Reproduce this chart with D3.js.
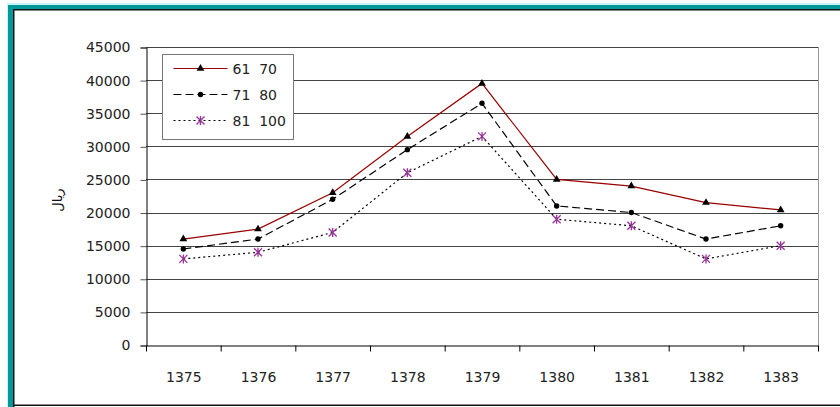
<!DOCTYPE html>
<html>
<head>
<meta charset="utf-8">
<script src="https://cdn.jsdelivr.net/npm/d3@7"></script>
<style>
    body { margin: 0; background: #fff; }
    svg { display: block; font-family: "DejaVu Sans", Verdana, sans-serif; }
</style>
</head>
<body>
<svg class="chart" width="840" height="407"></svg>
<script>
const years = ['1375', '1376', '1377', '1378', '1379', '1380', '1381', '1382', '1383'];
const seriesNames = ['61  70', '71  80', '81  100'];
const s61 = [16000, 17500, 23000, 31500, 39500, 25000, 24000, 21500, 20400];
const s71 = [14500, 16000, 22000, 29500, 36500, 21000, 20000, 16000, 18000];
const s81 = [13000, 14000, 17000, 26000, 31500, 19000, 18000, 13000, 15000];
const yTicks = [0, 5000, 10000, 15000, 20000, 25000, 30000, 35000, 40000, 45000];
const yLabel = 'ریال';

const m = {l: 146, r: 818, t: 47, b: 345};
const svg = d3.select('.chart');
const font = '"DejaVu Sans", Verdana, sans-serif';

// frame
svg.append('rect').attr('x', 7).attr('y', 3).attr('width', 833).attr('height', 2).attr('fill', '#c8f4f4');
svg.append('rect').attr('x', 7).attr('y', 3).attr('width', 2).attr('height', 404).attr('fill', '#c8f4f4');
svg.append('rect').attr('x', 8).attr('y', 5).attr('width', 832).attr('height', 4).attr('fill', '#009898');
svg.append('rect').attr('x', 8).attr('y', 5).attr('width', 5).attr('height', 402).attr('fill', '#009898');
svg.append('rect').attr('x', 13).attr('y', 9).attr('width', 827).attr('height', 1.5).attr('fill', '#111');
svg.append('rect').attr('x', 13).attr('y', 9).attr('width', 1.5).attr('height', 398).attr('fill', '#111');
svg.append('rect').attr('x', 13).attr('y', 404.5).attr('width', 827).attr('height', 1.5).attr('fill', '#111');

const x = d3.scaleBand().domain(years).range([m.l, m.r]);
const y = d3.scaleLinear().domain([0, 45000]).range([m.b, m.t]);

// gridlines
svg.append('g').selectAll('line').data(yTicks.filter(d => d > 0))
  .join('line')
  .attr('x1', m.l).attr('x2', m.r)
  .attr('y1', d => Math.round(y(d)) + 0.5).attr('y2', d => Math.round(y(d)) + 0.5)
  .attr('stroke', '#444').attr('stroke-width', 1);
svg.append('line').attr('x1', m.r + 0.5).attr('x2', m.r + 0.5)
  .attr('y1', Math.round(y(45000))).attr('y2', m.b)
  .attr('stroke', '#999');

// axes
const yAxis = svg.append('g').attr('transform', `translate(${m.l + 0.5},0.5)`)
  .call(d3.axisLeft(y).tickValues(yTicks).tickSize(6).tickPadding(10).tickFormat(d3.format('d')));
const xAxis = svg.append('g').attr('transform', `translate(0.5,${m.b + 0.5})`)
  .call(d3.axisBottom(x).tickSize(0).tickPadding(27));
xAxis.selectAll('.tick').each(function (d) {
    d3.select(this).append('line').attr('x1', -x.bandwidth() / 2).attr('x2', -x.bandwidth() / 2)
      .attr('y2', 6).attr('stroke', '#000');
});
xAxis.append('line').attr('x1', x.range()[1]).attr('x2', x.range()[1]).attr('y2', 6).attr('stroke', '#000');
[yAxis, xAxis].forEach(a => {
    a.select('.domain').attr('stroke', '#000');
    a.selectAll('text').attr('font-size', 14).attr('fill', '#222').attr('font-family', font);
});
yAxis.selectAll('line').attr('stroke', '#555');

svg.append('text').attr('transform', 'translate(62,200) rotate(-90)')
  .attr('text-anchor', 'middle').attr('font-size', 13).attr('fill', '#111').text(yLabel);

// series
const cx = (d, i) => x(years[i]) + x.bandwidth() / 2;
const line = d3.line().x(cx).y(d => y(d));
const styles = [
    {data: s61, color: '#990000', dash: null, marker: 'tri'},
    {data: s71, color: '#000', dash: '8,4', marker: 'dot'},
    {data: s81, color: '#000', dash: '2,3', marker: 'star'}
];

const drawMarker = (g, type) => {
    if (type === 'tri') {
        g.append('path').attr('d', d3.symbol(d3.symbolTriangle, 26)()).attr('fill', '#000');
    } else if (type === 'dot') {
        g.append('circle').attr('r', 2.7).attr('fill', '#000');
    } else {
        g.append('path').attr('d', 'M-4,-4L4,4M-4,4L4,-4M0,-4.5L0,4.5')
          .attr('stroke', '#993399').attr('stroke-width', 1.3).attr('fill', 'none');
    }
};

styles.forEach(s => {
    svg.append('path').datum(s.data).attr('d', line)
      .attr('fill', 'none').attr('stroke', s.color).attr('stroke-width', 1.2)
      .attr('stroke-dasharray', s.dash);
    svg.append('g').selectAll('g').data(s.data).join('g')
      .attr('transform', (d, i) => `translate(${cx(d, i)},${y(d)})`)
      .each(function () { drawMarker(d3.select(this), s.marker); });
});

// legend
const lg = svg.append('g').attr('transform', 'translate(162.5,54.5)');
lg.append('rect').attr('width', 131).attr('height', 85).attr('fill', '#fff').attr('stroke', '#777');
styles.forEach((s, i) => {
    const ly = 14 + i * 26;
    lg.append('line').attr('x1', 11).attr('x2', 65).attr('y1', ly).attr('y2', ly)
      .attr('stroke', s.color).attr('stroke-width', 1.2).attr('stroke-dasharray', s.dash);
    drawMarker(lg.append('g').attr('transform', `translate(38,${ly})`), s.marker);
    lg.append('text').attr('x', 70).attr('y', ly + 5).attr('font-size', 14).attr('fill', '#222')
      .attr('font-family', font)
      .attr('xml:space', 'preserve').style('white-space', 'pre').text(seriesNames[i]);
});
</script>
</body>
</html>
